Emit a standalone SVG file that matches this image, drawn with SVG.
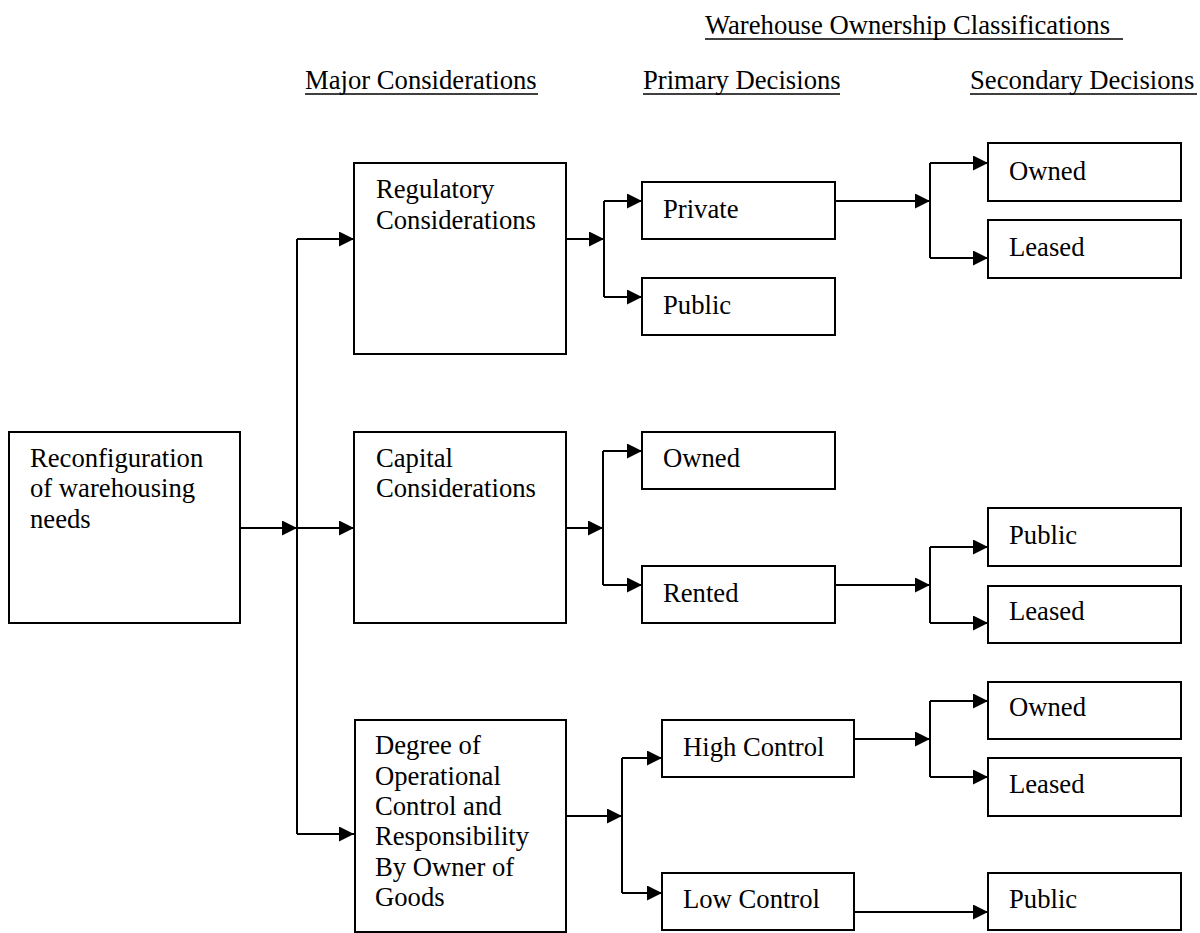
<svg xmlns="http://www.w3.org/2000/svg" width="1200" height="933" viewBox="0 0 1200 933">
<defs>
<marker id="arr" markerUnits="userSpaceOnUse" markerWidth="15" markerHeight="15" refX="15" refY="7.5" orient="auto">
<path d="M0,0 L15,7.5 L0,15 z" fill="#000"/>
</marker>
<style>
.box{fill:#fff;stroke:#000;stroke-width:2}
.t{font-family:"Liberation Serif","Times New Roman",serif;font-size:26.67px;fill:#000}
.c{fill:none;stroke:#000;stroke-width:2}
.a{fill:none;stroke:#000;stroke-width:2;marker-end:url(#arr)}
.u{stroke:#000;stroke-width:1.5}
</style>
</defs>
<rect width="1200" height="933" fill="#fff"/>
<g id="headers">
<text class="t" x="705" y="34">Warehouse Ownership Classifications</text>
<line class="u" x1="705" y1="39" x2="1123" y2="39"/>
<text class="t" x="305" y="89">Major Considerations</text>
<line class="u" x1="305" y1="94" x2="538" y2="94"/>
<text class="t" x="643" y="89">Primary Decisions</text>
<line class="u" x1="643" y1="94" x2="840" y2="94"/>
<text class="t" x="970" y="89">Secondary Decisions</text>
<line class="u" x1="970" y1="94" x2="1197" y2="94"/>
</g>
<g id="connectors">
<line class="a" x1="240" y1="528" x2="297" y2="528"/>
<line class="c" x1="297" y1="239" x2="297" y2="834"/>
<line class="a" x1="297" y1="239" x2="354" y2="239"/>
<line class="a" x1="297" y1="528" x2="354" y2="528"/>
<line class="a" x1="297" y1="834" x2="354" y2="834"/>
<line class="a" x1="566" y1="239" x2="604" y2="239"/>
<line class="c" x1="604" y1="201" x2="604" y2="297"/>
<line class="a" x1="604" y1="201" x2="642" y2="201"/>
<line class="a" x1="604" y1="297" x2="642" y2="297"/>
<line class="a" x1="835" y1="201" x2="930" y2="201"/>
<line class="c" x1="930" y1="163" x2="930" y2="258"/>
<line class="a" x1="930" y1="163" x2="988" y2="163"/>
<line class="a" x1="930" y1="258" x2="988" y2="258"/>
<line class="a" x1="566" y1="528" x2="603" y2="528"/>
<line class="c" x1="603" y1="451" x2="603" y2="585"/>
<line class="a" x1="603" y1="451" x2="642" y2="451"/>
<line class="a" x1="603" y1="585" x2="642" y2="585"/>
<line class="a" x1="835" y1="585" x2="930" y2="585"/>
<line class="c" x1="930" y1="547" x2="930" y2="623"/>
<line class="a" x1="930" y1="547" x2="988" y2="547"/>
<line class="a" x1="930" y1="623" x2="988" y2="623"/>
<line class="a" x1="566" y1="816" x2="622" y2="816"/>
<line class="c" x1="622" y1="758" x2="622" y2="893"/>
<line class="a" x1="622" y1="758" x2="662" y2="758"/>
<line class="a" x1="622" y1="893" x2="662" y2="893"/>
<line class="a" x1="854" y1="739" x2="930" y2="739"/>
<line class="c" x1="930" y1="701" x2="930" y2="777"/>
<line class="a" x1="930" y1="701" x2="988" y2="701"/>
<line class="a" x1="930" y1="777" x2="988" y2="777"/>
<line class="a" x1="854" y1="912" x2="988" y2="912"/>
</g>
<g id="reconfig">
<rect class="box" x="9" y="432" width="231" height="191"/>
<text class="t" x="30" y="467">Reconfiguration</text>
<text class="t" x="30" y="497">of warehousing</text>
<text class="t" x="30" y="528">needs</text>
</g>
<g id="regulatory">
<rect class="box" x="354" y="163" width="212" height="191"/>
<text class="t" x="376" y="198">Regulatory</text>
<text class="t" x="376" y="229">Considerations</text>
</g>
<g id="capital">
<rect class="box" x="354" y="432" width="212" height="191"/>
<text class="t" x="376" y="467">Capital</text>
<text class="t" x="376" y="497">Considerations</text>
</g>
<g id="degree">
<rect class="box" x="355" y="720" width="211" height="212"/>
<text class="t" x="375" y="754">Degree of</text>
<text class="t" x="375" y="785">Operational</text>
<text class="t" x="375" y="815">Control and</text>
<text class="t" x="375" y="845">Responsibility</text>
<text class="t" x="375" y="876">By Owner of</text>
<text class="t" x="375" y="906">Goods</text>
</g>
<g id="private">
<rect class="box" x="642" y="182" width="193" height="57"/>
<text class="t" x="663" y="218">Private</text>
</g>
<g id="public1">
<rect class="box" x="642" y="278" width="193" height="57"/>
<text class="t" x="663" y="314">Public</text>
</g>
<g id="owned-primary">
<rect class="box" x="642" y="432" width="193" height="57"/>
<text class="t" x="663" y="467">Owned</text>
</g>
<g id="rented">
<rect class="box" x="642" y="566" width="193" height="57"/>
<text class="t" x="663" y="602">Rented</text>
</g>
<g id="high-control">
<rect class="box" x="662" y="720" width="192" height="57"/>
<text class="t" x="683" y="756">High Control</text>
</g>
<g id="low-control">
<rect class="box" x="662" y="873" width="192" height="57"/>
<text class="t" x="683" y="908">Low Control</text>
</g>
<g id="owned1">
<rect class="box" x="988" y="143" width="193" height="58"/>
<text class="t" x="1009" y="180">Owned</text>
</g>
<g id="leased1">
<rect class="box" x="988" y="220" width="193" height="58"/>
<text class="t" x="1009" y="256">Leased</text>
</g>
<g id="public2">
<rect class="box" x="988" y="508" width="193" height="58"/>
<text class="t" x="1009" y="544">Public</text>
</g>
<g id="leased2">
<rect class="box" x="988" y="586" width="193" height="57"/>
<text class="t" x="1009" y="620">Leased</text>
</g>
<g id="owned3">
<rect class="box" x="988" y="682" width="193" height="57"/>
<text class="t" x="1009" y="716">Owned</text>
</g>
<g id="leased3">
<rect class="box" x="988" y="758" width="193" height="58"/>
<text class="t" x="1009" y="793">Leased</text>
</g>
<g id="public3">
<rect class="box" x="988" y="873" width="193" height="57"/>
<text class="t" x="1009" y="908">Public</text>
</g>
</svg>
